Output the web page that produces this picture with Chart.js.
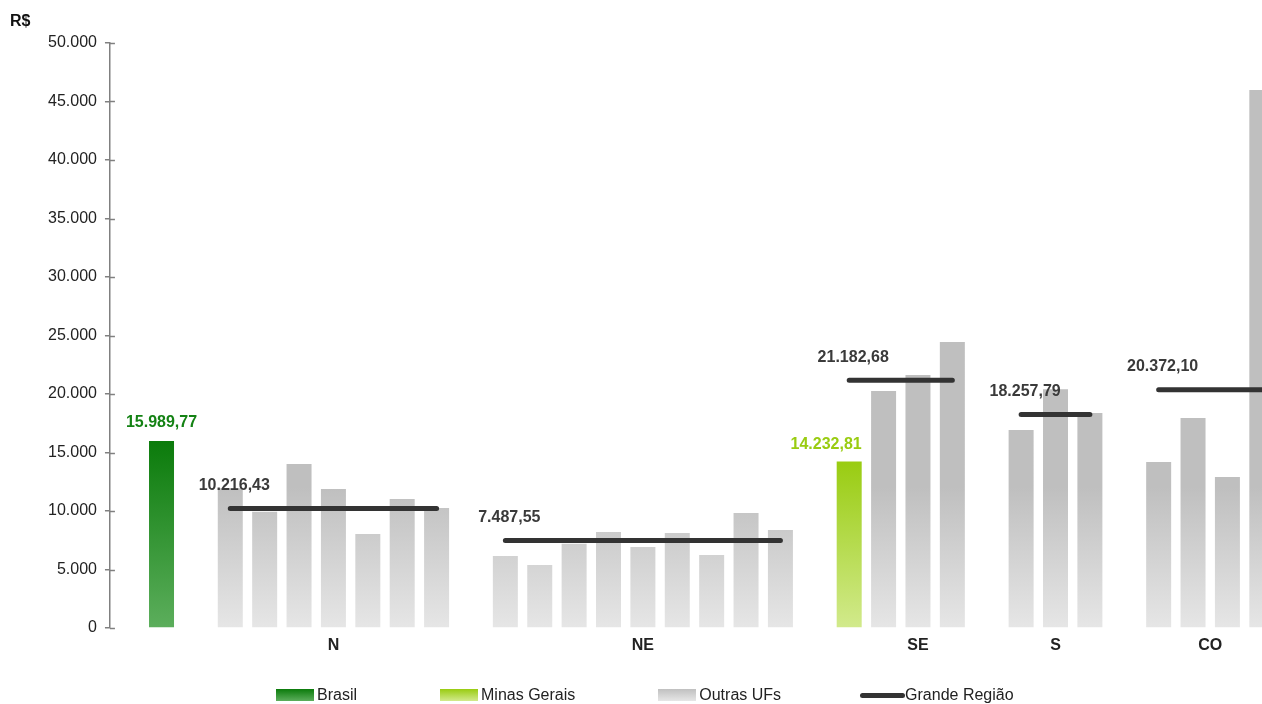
<!DOCTYPE html>
<html>
<head>
<meta charset="utf-8">
<script src="https://cdn.jsdelivr.net/npm/chart.js@4.4.1/dist/chart.umd.min.js"></script>
<style>
  html, body { margin: 0; padding: 0; background: #fff; overflow: hidden; }
  #wrap { position: relative; width: 1279px; height: 704px; }
  #legend { position: absolute; top: 686px; left: 276px; display: flex; align-items: center; gap: 83px;
            font-family: "Liberation Sans", Arial, sans-serif; font-size: 16px; color: #222; }
  .item { display: flex; align-items: center; white-space: nowrap; }
  .box { width: 38px; height: 12px; margin-right: 3px; }
  .ln { width: 45px; height: 5px; border-radius: 3px; background: #333; margin-right: 0px; }
</style>
</head>
<body>
<div id="wrap">
  <canvas id="c"></canvas>
  <div id="legend">
    <div class="item"><div class="box" style="background:linear-gradient(#0b7b0b,#5cae5c)"></div>Brasil</div>
    <div class="item"><div class="box" style="background:linear-gradient(#99cc11,#d2ea8c)"></div>Minas Gerais</div>
    <div class="item"><div class="box" style="background:linear-gradient(#c0c0c0,#e6e6e6)"></div>Outras UFs</div>
    <div class="item" style="margin-left:-4px"><div class="ln"></div>Grande Região</div>
  </div>
</div>
<script>
// ---- data ----
const brasilValue = 15989.77;
const mgValue = 14232.81;
const regions = ['N', 'NE', 'SE', 'S', 'CO'];
const ufN  = ['RO','AC','AM','RR','PA','AP','TO'];
const valN = [11940, 9940, 14020, 11880, 8030, 11030, 10250];
const ufNE  = ['MA','PI','CE','RN','PB','PE','AL','SE','BA'];
const valNE = [6150, 5390, 7200, 8200, 6920, 8120, 6240, 9830, 8380];
const ufSE  = ['ES','RJ','SP'];
const valSE = [20260, 21620, 24440];
const ufS  = ['PR','SC','RS'];
const valS = [16920, 20400, 18380];
const ufCO  = ['MS','MT','GO','DF'];
const valCO = [14190, 17950, 12910, 45980];
const regionAvg = [10216.43, 7487.55, 21182.68, 18257.79, 20372.10];
const yTicks = [0, 5000, 10000, 15000, 20000, 25000, 30000, 35000, 40000, 45000, 50000];

// ---- build slots (category axis with empty spacer slots) ----
const labels = [], brasilData = [], mgData = [], ufData = [], avgData = [];
const groups = [];
function push(lab, b, m, u, a) { labels.push(lab); brasilData.push(b); mgData.push(m); ufData.push(u); avgData.push(a); }
push('', null, null, null, null);
push('Brasil', brasilValue, null, null, null);
push('', null, null, null, null);
const regionUFs = [ufN, ufNE, ufSE, ufS, ufCO];
const regionVals = [valN, valNE, valSE, valS, valCO];
regions.forEach((r, ri) => {
  const g = { name: r };
  g.lineFrom = labels.length;
  if (r === 'SE') push('MG', null, mgValue, null, regionAvg[ri]);
  g.from = labels.length;
  regionUFs[ri].forEach((uf, k) => push(uf, null, null, regionVals[ri][k], regionAvg[ri]));
  g.to = labels.length - 1;
  g.avg = regionAvg[ri];
  groups.push(g);
  if (ri < regions.length - 1) push('', null, null, null, null);
});

const FONT = '"Liberation Sans", Arial, sans-serif';
const fmt = (v, d) => v.toLocaleString('pt-BR', { minimumFractionDigits: d, maximumFractionDigits: d });

function barGradient(top, bottom) {
  return (ctx) => {
    const chart = ctx.chart;
    if (!chart.chartArea || ctx.raw == null) return top;
    const ys = chart.scales.y;
    const g = chart.ctx.createLinearGradient(0, ys.getPixelForValue(ctx.raw), 0, ys.getPixelForValue(0));
    g.addColorStop(0, top); g.addColorStop(1, bottom);
    return g;
  };
}
function grayGradient(ctx) {
  const chart = ctx.chart;
  if (!chart.chartArea) return '#c8c8c8';
  const ys = chart.scales.y;
  const g = chart.ctx.createLinearGradient(0, ys.getPixelForValue(12000), 0, ys.getPixelForValue(0));
  g.addColorStop(0, '#bfbfbf'); g.addColorStop(1, '#e6e6e6');
  return g;
}

const overlay = {
  id: 'overlay',
  afterDraw(chart) {
    const c = chart.ctx, xs = chart.scales.x, ys = chart.scales.y, area = chart.chartArea;
    c.save();
    // inner half of y tick marks
    c.strokeStyle = '#808080'; c.lineWidth = 1.5;
    yTicks.forEach(v => {
      const y = Math.round(ys.getPixelForValue(v)) + 0.5;
      c.beginPath(); c.moveTo(area.left, y); c.lineTo(area.left + 5, y); c.stroke();
    });
    // unit label
    c.fillStyle = '#111'; c.font = 'bold 16px ' + FONT; c.textAlign = 'left'; c.textBaseline = 'middle';
    c.fillText('R$', 10, 22);
    // region names
    c.fillStyle = '#222'; c.font = 'bold 16px ' + FONT; c.textAlign = 'center';
    groups.forEach(g => {
      const x = (xs.getPixelForValue(g.from) + xs.getPixelForValue(g.to)) / 2;
      c.fillText(g.name, x, area.bottom + 18);
    });
    // region average labels
    c.fillStyle = '#3a3a3a';
    groups.forEach(g => {
      const x = xs.getPixelForValue(g.lineFrom);
      c.fillText(fmt(g.avg, 2), x + 4, ys.getPixelForValue(g.avg) - 23);
    });
    // Brasil and MG labels
    const bi = labels.indexOf('Brasil'), mi = labels.indexOf('MG');
    c.fillStyle = '#148214';
    c.fillText(fmt(brasilValue, 2), xs.getPixelForValue(bi), ys.getPixelForValue(brasilValue) - 18);
    c.fillStyle = '#99cc11';
    c.textAlign = 'right';
    const mgBar = chart.getDatasetMeta(2).data[mi];
    c.fillText(fmt(mgValue, 2), mgBar.x + mgBar.width / 2, ys.getPixelForValue(mgValue) - 17);
    c.restore();
  }
};

new Chart(document.getElementById('c'), {
  type: 'bar',
  data: {
    labels,
    datasets: [
      { type: 'line', label: 'Grande Região', data: avgData, borderColor: '#333333', borderWidth: 5,
        borderCapStyle: 'round', pointRadius: 0, spanGaps: false, order: 0 },
      { label: 'Brasil', data: brasilData, backgroundColor: barGradient('#0b7b0b', '#5cae5c'), order: 1 },
      { label: 'Minas Gerais', data: mgData, backgroundColor: barGradient('#99cc11', '#d2ea8c'), order: 1 },
      { label: 'Outras UFs', data: ufData, backgroundColor: grayGradient, order: 1 }
    ]
  },
  options: {
    responsive: true,
    maintainAspectRatio: false,
    animation: false,
    layout: { padding: { left: 40, top: 43, right: 0, bottom: 76 } },
    datasets: { bar: { grouped: false, barPercentage: 0.727, categoryPercentage: 1 } },
    plugins: { legend: { display: false }, tooltip: { enabled: false } },
    scales: {
      x: { display: false },
      y: {
        min: 0, max: 50000,
        afterBuildTicks: (s) => { s.ticks = yTicks.map(v => ({ value: v })); },
        grid: { drawOnChartArea: false, tickLength: 5, color: '#808080', lineWidth: 1.5 },
        border: { color: '#808080', width: 1.5 },
        ticks: { padding: 8, color: '#222', font: { family: FONT, size: 16 },
                 callback: (v) => fmt(v, 0) }
      }
    }
  },
  plugins: [overlay]
});
</script>
</body>
</html>
